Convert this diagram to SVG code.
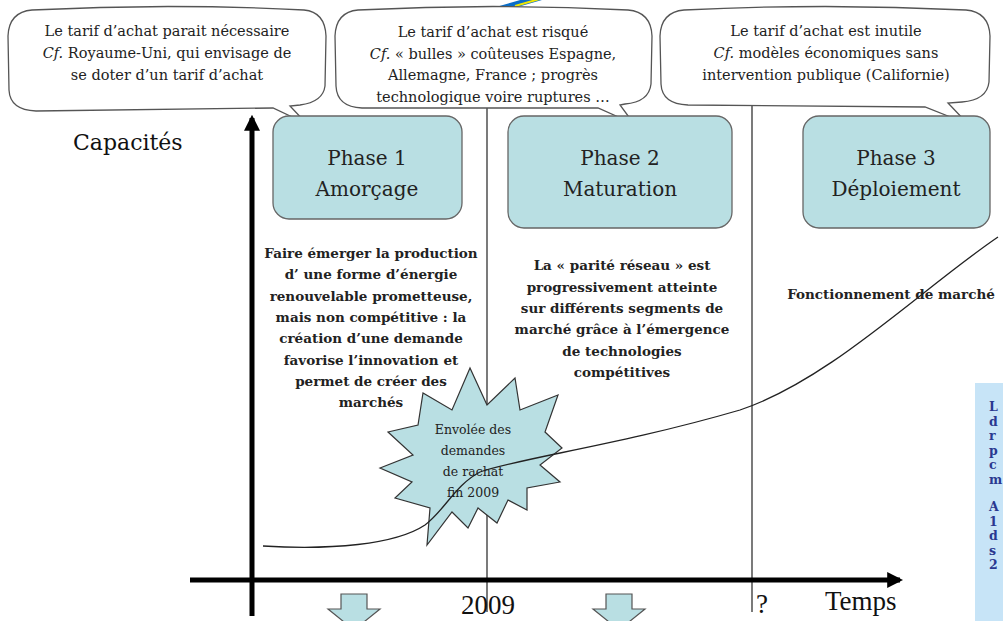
<svg xmlns="http://www.w3.org/2000/svg" width="1003" height="621" viewBox="0 0 1003 621">
<style>
.call{fill:#fff;stroke:#555;stroke-width:1.3}
.ct{font-family:"DejaVu Serif","Liberation Serif",serif;font-size:14.5px;fill:#222;text-anchor:middle}
.phase{fill:#b9dfe3;stroke:#666;stroke-width:1.3}
.pt{font-family:"DejaVu Serif","Liberation Serif",serif;font-size:20px;fill:#222;text-anchor:middle}
.dt{font-family:"DejaVu Serif","Liberation Serif",serif;font-size:13.5px;font-weight:bold;fill:#222;text-anchor:middle}
.st{font-family:"DejaVu Serif","Liberation Serif",serif;font-size:12.5px;fill:#222;text-anchor:middle}
.ax{font-family:"Liberation Serif",serif;font-size:27px;fill:#111}
.side{font-family:"DejaVu Serif","Liberation Serif",serif;font-size:12.5px;font-weight:bold;fill:#2a3890}
.darrow{fill:#b9dfe3;stroke:#555;stroke-width:1.2}
</style>
<defs>
<marker id="ah" viewBox="0 0 10 10" refX="8" refY="5" markerWidth="3.2" markerHeight="3.2" orient="auto"><path d="M0,0 L10,5 L0,10 Z" fill="#000"/></marker>
</defs>
<rect width="1003" height="621" fill="#fff"/>

<g id="top-mark">
<line x1="472" y1="17" x2="545" y2="-4" stroke="#0a6ec8" stroke-width="6" stroke-linecap="round"/>
<line x1="515" y1="6" x2="550" y2="-4" stroke="#f2e600" stroke-width="2"/>
</g>

<g id="connectors">
<line x1="487" y1="106" x2="487" y2="612" stroke="#222" stroke-width="1.2"/>
<line x1="752" y1="104" x2="752" y2="612" stroke="#222" stroke-width="1.2"/>
<line x1="252" y1="616" x2="252" y2="118" stroke="#000" stroke-width="5" marker-end="url(#ah)"/>
<line x1="190" y1="580" x2="900" y2="580" stroke="#000" stroke-width="5" marker-end="url(#ah)"/>
</g>

<g id="burst">
<polygon fill="#b9dfe3" stroke="#333" stroke-width="1.2" points="380,468 413,455 388,432 418,425 423,393 452,410 470,368 487,405 515,378 520,410 558,395 545,432 562,448 540,465 560,482 527,488 527,510 508,500 497,523 478,508 468,528 452,512 427,545 430,508 395,498 412,482"/>
</g>

<g id="curve">
<path d="M263,546 C330,550 395,545 425,525 C445,510 455,485 480,472 C520,458 620,445 740,410 C830,380 920,290 998,237" fill="none" stroke="#222" stroke-width="1.3"/>
</g>

<g id="burst-text">
<text class="st" x="473" y="434">Envolée des</text>
<text class="st" x="473" y="455">demandes</text>
<text class="st" x="473" y="476">de rachat</text>
<text class="st" x="473" y="497">fin 2009</text>
</g>

<g id="callout1">
<path class="call" d="M32,10 Q168,3 304,10 Q325,12 326,36 L325,86 Q323,102 300,105 L290,106 L307,124 L273,108 L36,111 Q10,110 9,90 L8,36 Q9,12 32,10 Z"/>
<text class="ct" x="167" y="36">Le tarif d’achat parait nécessaire</text>
<text class="ct" x="167" y="58"><tspan font-style="italic">Cf.</tspan> Royaume-Uni, qui envisage de</text>
<text class="ct" x="167" y="80">se doter d’un tarif d’achat</text>
</g>

<g id="callout2">
<path class="call" d="M358,10 Q493,3 628,10 Q651,12 652,36 L651,84 Q649,102 625,104 L620,105 L634,124 L598,108 L362,108 Q337,107 336,86 L335,36 Q336,12 358,10 Z"/>
<text class="ct" x="493" y="37">Le tarif d’achat est risqué</text>
<text class="ct" x="493" y="58.5"><tspan font-style="italic">Cf.</tspan> « bulles » coûteuses Espagne,</text>
<text class="ct" x="493" y="80">Allemagne, France ; progrès</text>
<text class="ct" x="493" y="101.5">technologique voire ruptures …</text>
</g>

<g id="callout3">
<path class="call" d="M684,10 Q825,3 966,10 Q989,12 990,36 L989,82 Q987,100 962,102 L948,103 L968,124 L925,107 L688,105 Q662,104 661,84 L660,36 Q661,12 684,10 Z"/>
<text class="ct" x="826" y="36">Le tarif d’achat est inutile</text>
<text class="ct" x="826" y="58"><tspan font-style="italic">Cf.</tspan> modèles économiques sans</text>
<text class="ct" x="826" y="80">intervention publique (Californie)</text>
</g>

<g id="phase1">
<rect class="phase" x="273" y="116" width="189" height="103" rx="16"/>
<text class="pt" x="367" y="165">Phase 1</text>
<text class="pt" x="367" y="196">Amorçage</text>
</g>
<g id="phase2">
<rect class="phase" x="508" y="116" width="224" height="112" rx="16"/>
<text class="pt" x="620" y="165">Phase 2</text>
<text class="pt" x="620" y="196">Maturation</text>
</g>
<g id="phase3">
<rect class="phase" x="803" y="116" width="187" height="112" rx="16"/>
<text class="pt" x="896" y="165">Phase 3</text>
<text class="pt" x="896" y="196">Déploiement</text>
</g>

<g id="desc1">
<text class="dt" x="371" y="258">Faire émerger la production</text>
<text class="dt" x="371" y="279">d’ une forme d’énergie</text>
<text class="dt" x="371" y="300.5">renouvelable prometteuse,</text>
<text class="dt" x="371" y="322">mais non compétitive : la</text>
<text class="dt" x="371" y="343">création d’une demande</text>
<text class="dt" x="371" y="364.5">favorise l’innovation et</text>
<text class="dt" x="371" y="386">permet de créer des</text>
<text class="dt" x="371" y="407">marchés</text>
</g>

<g id="desc2">
<text class="dt" x="622" y="270">La « parité réseau » est</text>
<text class="dt" x="622" y="291.5">progressivement atteinte</text>
<text class="dt" x="622" y="313">sur différents segments de</text>
<text class="dt" x="622" y="334">marché grâce à l’émergence</text>
<text class="dt" x="622" y="355.5">de technologies</text>
<text class="dt" x="622" y="377">compétitives</text>
</g>

<g id="desc3">
<text class="dt" x="891" y="299">Fonctionnement de marché</text>
</g>

<g id="axis-labels">
<text x="73" y="150" font-family="DejaVu Serif, Liberation Serif, serif" font-size="22" fill="#111">Capacités</text>
<text class="ax" x="488" y="614" text-anchor="middle">2009</text>
<text class="ax" x="762" y="613" text-anchor="middle" font-size="22">?</text>
<text class="ax" x="825" y="610">Temps</text>
</g>

<g id="down-arrow1">
<path class="darrow" d="M341,594 L367,594 L367,609 L380,609 L354,630 L328,609 L341,609 Z"/>
</g>
<g id="down-arrow2">
<path class="darrow" d="M606,594 L632,594 L632,609 L645,609 L619,630 L593,609 L606,609 Z"/>
</g>

<g id="side-panel">
<rect x="975" y="383" width="30" height="240" fill="#c7e4f7"/>
<text class="side" x="989" y="411">L</text>
<text class="side" x="989" y="425.5">d</text>
<text class="side" x="989" y="440">r</text>
<text class="side" x="989" y="454.5">p</text>
<text class="side" x="989" y="469">c</text>
<text class="side" x="989" y="483.5">m</text>
<text class="side" x="989" y="511">A</text>
<text class="side" x="989" y="525.5">1</text>
<text class="side" x="989" y="540">d</text>
<text class="side" x="989" y="554.5">s</text>
<text class="side" x="989" y="569">2</text>
</g>
</svg>
